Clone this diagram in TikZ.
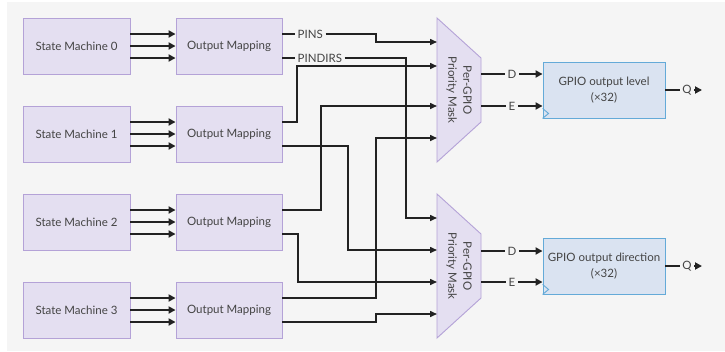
\documentclass[tikz,border=0pt]{standalone}
\usepackage{fontspec}
\setmainfont{Lato}
\usetikzlibrary{arrows.meta,calc}

\definecolor{panel}{HTML}{F5F5F5}
\definecolor{smfill}{HTML}{E4DFF1}
\definecolor{smline}{HTML}{B4A2D7}
\definecolor{gpfill}{HTML}{DAE3F1}
\definecolor{gpline}{HTML}{64AAD8}
\definecolor{wirec}{HTML}{222222}
\definecolor{txt}{HTML}{444444}

\tikzset{
  block/.style={draw=smline, fill=smfill, line width=0.9pt, minimum width=106pt,
    minimum height=56pt, inner sep=0pt, text=txt, font=\fontsize{11.5}{13.5}\selectfont},
  gpio/.style={draw=gpline, fill=gpfill, line width=0.9pt, minimum width=122pt,
    minimum height=56pt, inner sep=0pt, align=center, text=txt,
    font=\fontsize{11.5}{16}\selectfont},
  masktext/.style={align=center, text=txt, inner sep=0pt, font=\fontsize{11.5}{15}\selectfont},
  lbl/.style={text=txt, inner sep=2.5pt, font=\fontsize{11.5}{13.5}\selectfont},
  tip/.style={-{Triangle[length=7pt,width=7pt]}},
  bus/.style={draw=wirec, line width=2.8pt},
  wire/.style={draw=wirec, line width=1.5pt, -{Triangle[length=7pt,width=6pt]}},
}

\begin{document}
\begin{tikzpicture}[x=1pt, y=-1pt]
  \useasboundingbox (0,0) rectangle (725,351);
  \fill[panel] (7,2) rectangle (725,351);

  % state machines and their output mappings
  \foreach \i in {0,...,3} {
    \node[block, minimum width=107pt] (sm\i) at (76.5,46+88*\i) {State Machine \i};
    \node[block] (om\i) at (229,46+88*\i) {Output Mapping};
    \foreach \d in {-12,0,12}
      \draw[bus, tip] ($(sm\i.east)+(0,\d)$) -- ($(om\i.west)+(0,\d)$);
  }

  % priority masks
  \foreach \m/\y in {0/18, 1/194} {
    \draw[draw=smline, fill=smfill, line width=0.9pt]
      (437,\y) -- ++(44,40) -- ++(0,64) -- ++(-44,40) -- cycle;
    \node[masktext, rotate=-90] (mask\m) at (459,\y+72) {Per-GPIO\\Priority Mask};
  }
  \coordinate (mask0-1) at (437,42);
  \coordinate (mask0-2) at (437,66);
  \coordinate (mask0-3) at (437,106);
  \coordinate (mask0-4) at (437,138);
  \coordinate (mask1-1) at (437,218);
  \coordinate (mask1-2) at (437,250);
  \coordinate (mask1-3) at (437,282);
  \coordinate (mask1-4) at (437,314);
  \coordinate (mask0-d) at (481,74);
  \coordinate (mask0-e) at (481,106);
  \coordinate (mask1-d) at (481,251);
  \coordinate (mask1-e) at (481,282);

  % PINS and PINDIRS
  \node[lbl, anchor=west] (pins) at (295,34) {PINS};
  \node[lbl, anchor=west] (pindirs) at (295,58) {PINDIRS};
  \draw[bus] ($(om0.east)+(0,-12)$) -- (pins.west);
  \draw[bus] ($(om0.east)+(0,12)$) -- (pindirs.west);
  \draw[wire] (pins.east) -- (376,34) |- (mask0-1);
  \draw[wire] (pindirs.east) -- (406,58) |- (mask1-1);

  % crossing wires
  \draw[wire] ($(om1.east)+(0,-12)$) -- (297,122) |- (mask0-2);
  \draw[wire] ($(om1.east)+(0,12)$) -- (348,146) |- (mask1-2);
  \draw[wire] ($(om2.east)+(0,-12)$) -- (321,210) |- (mask0-3);
  \draw[wire] ($(om2.east)+(0,12)$) -- (298,234) |- (mask1-3);
  \draw[wire] ($(om3.east)+(0,-12)$) -- (376,298) |- (mask0-4);
  \draw[wire] ($(om3.east)+(0,12)$) -- (376,322) |- (mask1-4);

  % GPIO registers
  \node[gpio] (lvl) at (604,90) {GPIO output level\\(×32)};
  \node[gpio] (dir) at (604,266) {GPIO output direction\\(×32)};
  \foreach \m/\g in {0/lvl, 1/dir} {
    \draw[gpline, line width=0.9pt] ($(\g.south west)+(0,-10)$) -- ++(6,5) -- ++(-6,5);
    \node[lbl] (d\m) at (512,0 |- mask\m-d) {D};
    \node[lbl] (e\m) at (512,0 |- mask\m-e) {E};
    \node[lbl] (q\m) at (687,0 |- \g.center) {Q};
    \draw[bus] (mask\m-d) -- (d\m);
    \draw[bus] (mask\m-e) -- (e\m);
    \draw[bus, tip] (d\m) -- (\g.west |- d\m);
    \draw[bus, tip] (e\m) -- (\g.west |- e\m);
    \draw[bus] (\g.east) -- (q\m);
    \draw[bus, tip] (q\m) -- ++(15,0);
  }
\end{tikzpicture}
\end{document}
